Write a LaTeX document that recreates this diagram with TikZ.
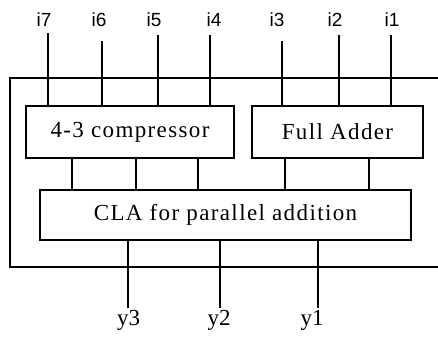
\documentclass[tikz,border=0pt]{standalone}
\usepackage{fontspec}
\setmainfont{Liberation Serif}
\newfontfamily\labelsans{Liberation Sans}
\newfontfamily\boxserif[LetterSpace=6]{Liberation Serif}
\begin{document}
\begin{tikzpicture}[x=1pt,y=-1pt,line width=1.1pt,
  block/.style={draw,inner sep=0pt,font=\boxserif\fontsize{23}{26}\selectfont},
  inlabel/.style={inner sep=0pt,font=\labelsans\fontsize{19}{22}\selectfont},
  outlabel/.style={inner sep=0pt,font=\fontsize{23}{26}\selectfont}]
\useasboundingbox (0,0) rectangle (438,340);

% outer frame, open on the right
\draw (438,78) -- (10,78) -- (10,267) -- (438,267);

% blocks
\node[block,minimum width=208,minimum height=52] (comp) at (130,132) {4-3 compressor};
\node[block,minimum width=171,minimum height=52] (fa) at (337.5,132) {Full Adder};
\node[block,minimum width=371,minimum height=50] (cla) at (225.5,215) {CLA for parallel addition};

% input labels and wires
\foreach \n/\lx/\wx/\wy/\blk in {7/44/48/33/comp,6/99/102/41/comp,5/154/158/35/comp,4/214/210/35/comp,
                                  3/277/282/41/fa,2/335/339/35/fa,1/392/391/35/fa}{
  \node[inlabel] (i\n) at (\lx,20) {i\n};
  \coordinate (w\n) at (\wx,\wy);
  \draw (w\n) -- (w\n |- \blk.north);
}

% internal links to the CLA
\foreach \k/\tx/\blk in {1/72/comp,2/136/comp,3/198/comp,4/285/fa,5/369/fa}{
  \coordinate (t\k) at (\tx,0);
  \draw (t\k |- \blk.south) -- (t\k |- cla.north);
}

% outputs
\foreach \n/\lx/\wx in {3/128.5/128,2/219/220,1/312/318}{
  \coordinate (o\n) at (\wx,308);
  \node[outlabel] (y\n) at (\lx,320) {y\n};
  \draw (o\n |- cla.south) -- (o\n);
}
\end{tikzpicture}
\end{document}
